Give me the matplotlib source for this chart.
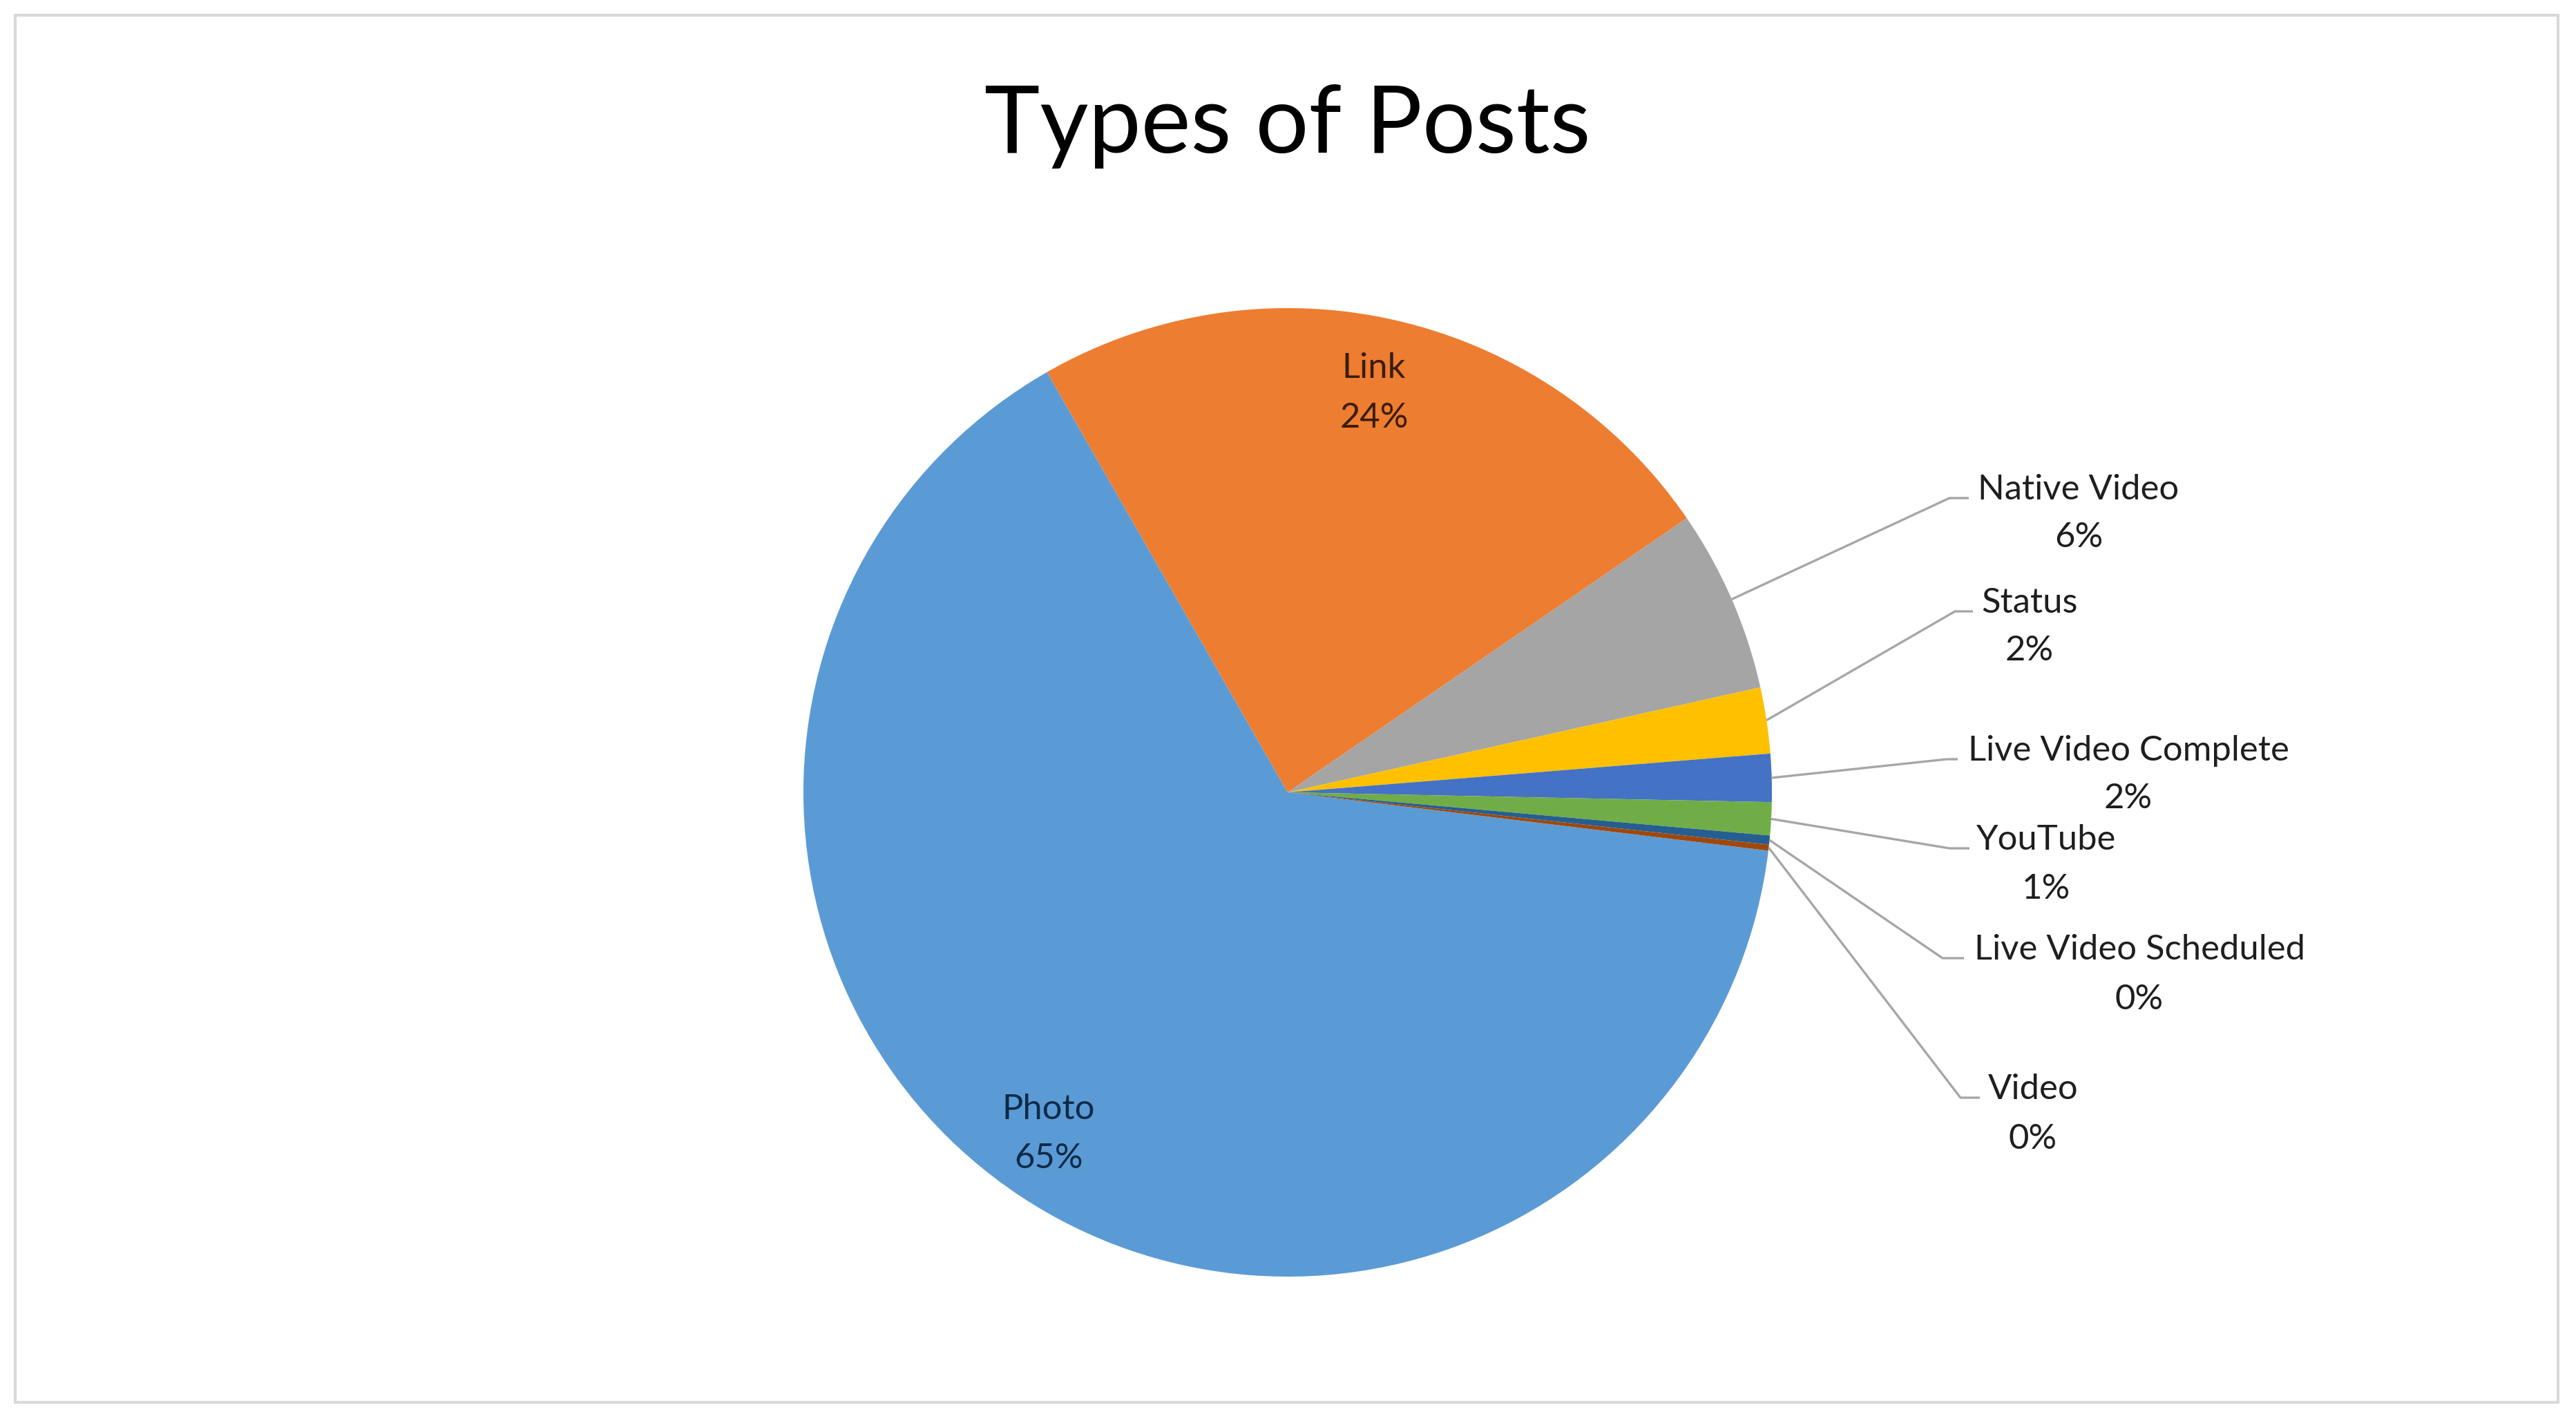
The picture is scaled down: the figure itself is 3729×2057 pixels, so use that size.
import matplotlib
matplotlib.use("Agg")
import matplotlib.pyplot as plt
import numpy as np
from matplotlib.patches import Rectangle

# ---- data ----
categories = ["Photo", "Link", "Native Video", "Status", "Live Video Complete",
              "YouTube", "Live Video Scheduled", "Video"]
values = [64.8, 23.7, 6.1, 2.2, 1.6, 1.1, 0.3, 0.2]
colors = ["#5B9BD5", "#ED7D31", "#A5A5A5", "#FFC000", "#4472C4",
          "#70AD47", "#255E91", "#9E480E"]
title = "Types of Posts"

# ---- layout (pixel coordinates, y measured from top) ----
W, H = 3730, 2057
CX, CY, R = 1864, 1147, 701
FONT = ["Lato", "DejaVu Sans"]
LFS = 36.5
TDY = 5  # small vertical text offset

# inside labels: (x, y of line 1, y of line 2)
inside_pos = {"Photo": (1518, 1601, 1672), "Link": (1989, 528, 600)}
# outside labels: (center x, y line1, y line2, elbow x, stub end x)
outside_pos = {
    "Native Video":         (3009, 704, 773, 2822, 2850),
    "Status":               (2938, 868, 937, 2830, 2856),
    "Live Video Complete":  (3081, 1082, 1151, 2818, 2834),
    "YouTube":              (2962, 1211, 1282, 2822, 2851),
    "Live Video Scheduled": (3097, 1370, 1442, 2812, 2843),
    "Video":                (2943, 1572, 1644, 2838, 2866),
}
inside_colors = {"Photo": "#0E2A47", "Link": "#3B1C07"}

fig = plt.figure(figsize=(W / 100, H / 100), dpi=100)
ax = fig.add_axes([0, 0, 1, 1])
ax.set_xlim(0, W)
ax.set_ylim(0, H)
ax.set_aspect("equal")
ax.axis("off")

def Y(py):
    return H - py

wedges, _ = ax.pie(values, colors=colors, startangle=-6.92, counterclock=False,
                   center=(CX, Y(CY)), radius=R, frame=True,
                   wedgeprops=dict(linewidth=0))
ax.set_xlim(0, W)
ax.set_ylim(0, H)
ax.axis("off")

total = sum(values)
pcts = {c: f"{round(v / total * 100):.0f}%" for c, v in zip(categories, values)}

for cat, w in zip(categories, wedges):
    if cat in inside_pos:
        x, y1, y2 = inside_pos[cat]
        col = inside_colors[cat]
        ax.text(x, Y(y1 + TDY), cat, ha="center", va="center", fontsize=LFS,
                family=FONT, color=col)
        ax.text(x, Y(y2 + TDY), pcts[cat], ha="center", va="center", fontsize=LFS,
                family=FONT, color=col)
    else:
        x, y1, y2, ex, sx = outside_pos[cat]
        mid = np.deg2rad((w.theta1 + w.theta2) / 2)
        ax0 = CX + R * np.cos(mid)
        ay0 = Y(CY) + R * np.sin(mid)
        sy = Y(y1 + 17)
        ax.plot([ax0, ex, sx], [ay0, sy, sy], color="#A6A6A6", lw=2.4,
                solid_capstyle="butt", zorder=1)
        ax.text(x, Y(y1 + TDY), cat, ha="center", va="center", fontsize=LFS,
                family=FONT, color="#1E1E1E")
        ax.text(x, Y(y2 + TDY), pcts[cat], ha="center", va="center", fontsize=LFS,
                family=FONT, color="#1E1E1E")

ax.text(1864, Y(221), title, ha="center", va="baseline", fontsize=98,
        family=FONT, color="#000000")

ax.add_patch(Rectangle((22, Y(2030)), 3703 - 22, 2030 - 22, fill=False,
                       edgecolor="#D9D9D9", lw=3, zorder=0))

fig.savefig("out.png", dpi=100, facecolor="white")
